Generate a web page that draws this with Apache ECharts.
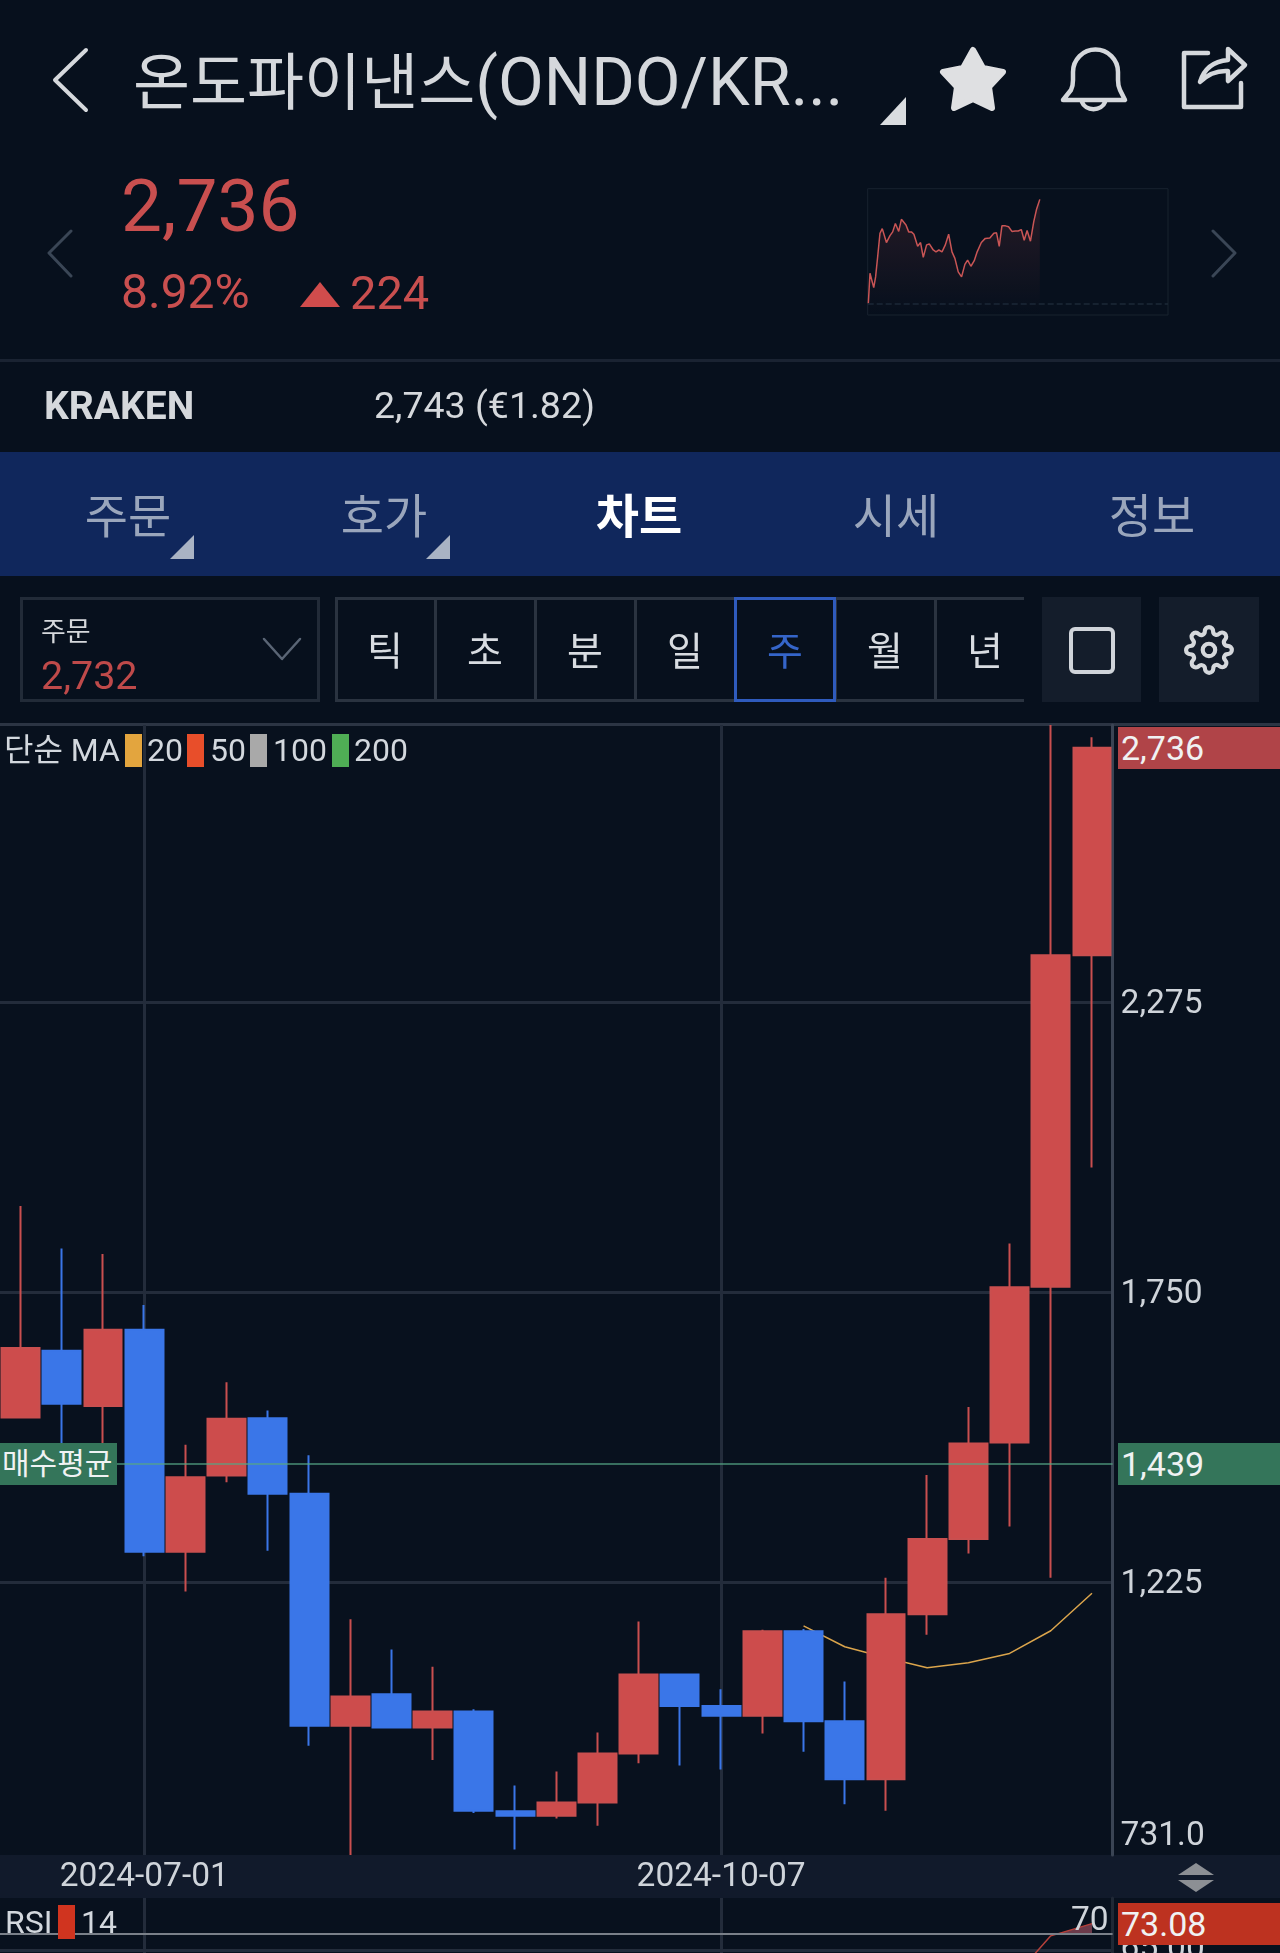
<!DOCTYPE html>
<html lang="ko">
<head>
<meta charset="utf-8">
<title>온도파이낸스 차트</title>
<script src="https://cdn.jsdelivr.net/npm/echarts@6/dist/echarts.min.js"></script>
<style>
    html, body { margin: 0; padding: 0; background: #07101d; }
    body { position: relative; width: 1280px; height: 1953px; overflow: hidden; font-family: Roboto, 'Noto Sans CJK KR', sans-serif; color: #d5d8dc; }
    #chart { position: absolute; left: 0; top: 0; width: 1280px; height: 1953px; z-index: 1; }
    #icons { position: absolute; left: 0; top: 0; z-index: 2; pointer-events: none; }
    .box { position: absolute; box-sizing: border-box; }
    .tl, .tc { position: absolute; white-space: nowrap; line-height: 1; z-index: 2; }
    .tl { transform: translateY(-50%); }
    .tc { transform: translate(-50%, -50%); }
    .red { color: #c94f4f; }
    .tab { font-size: 47px; color: #9aa6bc; }
    .cell { font-size: 39px; color: #d8dce1; }
    .leg { font-size: 32px; color: #d3d8de; }
    .swatch { position: absolute; top: 734px; width: 17px; height: 33px; z-index: 2; }
    .tag { position: absolute; left: 1118px; width: 162px; height: 42px; line-height: 42px; font-size: 34px; color: #f0f2f3; padding-left: 3px; box-sizing: border-box; transform: translateY(-50%); z-index: 3; }
</style>
</head>
<body>
<!-- 배경 띠 -->
<div class="box" style="left:0;top:359px;width:1280px;height:3px;background:#1a2332"></div>
<div class="box" style="left:0;top:452px;width:1280px;height:124px;background:#10275c"></div>
<div class="box" style="left:0;top:723px;width:1280px;height:3px;background:#2c3544"></div>
<div class="box" style="left:0;top:726px;width:1280px;height:1227px;background:#08111e"></div>
<div class="box" style="left:0;top:1855px;width:1280px;height:43px;background:#111a2b"></div>

<div class="box" style="left:20px;top:597px;width:300px;height:105px;border:3px solid #222b38"></div>
<div class="box" style="left:335px;top:597px;width:689px;height:105px;border:solid #2a3340;border-width:3px 0 3px 3px"></div>
<div class="box" style="left:1042px;top:597px;width:99px;height:105px;background:#141d2b"></div>
<div class="box" style="left:1159px;top:597px;width:100px;height:105px;background:#141d2b"></div>
<div class="box" style="left:1069px;top:627px;width:46px;height:47px;border:4px solid #d0d4da;border-radius:6px;z-index:2"></div>
<div id="cells"></div>

<div class="tl" style="left:133px;top:82px;font-size:62px">온도파이낸스<span style="font-size:66.5px">(ONDO/KR...</span></div>
<div class="tl red" style="left:121px;top:206px;font-size:73px">2,736</div>
<div class="tl red" style="left:121px;top:292px;font-size:48px">8.92%</div>
<div class="tl red" style="left:350px;top:292px;font-size:47px">224</div>
<div class="tl" style="left:44px;top:406px;font-size:39px;font-weight:700">KRAKEN</div>
<div class="tl" style="left:374px;top:406px;font-size:37.5px">2,743 (€1.82)</div>

<div class="tc tab" style="left:128px;top:516px">주문</div>
<div class="tc tab" style="left:384px;top:516px">호가</div>
<div class="tc tab" style="left:639px;top:516px;color:#fff;font-weight:700">차트</div>
<div class="tc tab" style="left:896px;top:516px">시세</div>
<div class="tc tab" style="left:1152px;top:516px">정보</div>

<div class="tl" style="left:41px;top:632px;font-size:27px">주문</div>
<div class="tl" style="left:41px;top:676px;font-size:39.5px;color:#bf4a4a">2,732</div>

<div class="tl leg" style="left:4px;top:750px">단순 MA</div>
<div class="swatch" style="left:125px;background:#e3a53e"></div>
<div class="tl leg" style="left:147px;top:750px">20</div>
<div class="swatch" style="left:187px;background:#e84e2a"></div>
<div class="tl leg" style="left:210px;top:750px">50</div>
<div class="swatch" style="left:250px;background:#a9a9a9"></div>
<div class="tl leg" style="left:273px;top:750px">100</div>
<div class="swatch" style="left:332px;background:#4fae55"></div>
<div class="tl leg" style="left:354px;top:750px">200</div>

<div class="tl leg" style="left:5px;top:1922px">RSI</div>
<div class="swatch" style="left:58px;top:1905px;height:34px;background:#d0341f"></div>
<div class="tl leg" style="left:81px;top:1922px">14</div>

<div class="tag" id="buyLabel" style="left:0;width:117px;font-size:30px;padding-left:2px;background:#34755a">매수평균</div>
<div class="tag" id="lastTag" style="background:#b04448">2,736</div>
<div class="tag" id="buyTag" style="background:#34755a">1,439</div>
<div class="tag" id="rsiTag" style="background:#bd3220">73.08</div>

<svg id="icons" width="1280" height="1953" fill="none" stroke="#d5d8dc" stroke-linejoin="round" stroke-linecap="round">
    <polyline points="86,50 55,80 86,110" stroke-width="4"/>
    <polygon points="880,125 906,97 906,125" fill="#d9dcdf" stroke="none"/>
    <polygon points="973,50 983,68 1003,72 989,87 992,108 973,99 954,108 957,87 943,72 963,68" fill="#dfe0e2" stroke="#dfe0e2" stroke-width="6"/>
    <path d="M1063 100 L1071 90 Q1073 86 1073 80 V72 A22.5 22.5 0 0 1 1118 72 V80 Q1118 86 1120 90 L1125 100 Z" stroke-width="4.5"/>
    <path d="M1082 102 A12 10 0 0 0 1105 102" stroke-width="4.5"/>
    <path d="M1208 53 H1184 V107 H1241 V83" stroke-width="4.5"/>
    <path d="M1200 82 Q1206 62 1228 60 V49 L1245 65 L1228 81 V71 Q1212 70 1200 82 Z" stroke-width="4.5"/>
    <polyline points="71,231 49,253 71,276" stroke="#3a4656" stroke-width="3"/>
    <polyline points="1213,231 1235,253 1213,276" stroke="#3a4656" stroke-width="3"/>
    <polygon points="300,307 320,282 340,307" fill="#d04c4c" stroke="none"/>
    <polygon points="170,559 194,535 194,559" fill="#a9b3c4" stroke="none"/>
    <polygon points="426,559 450,535 450,559" fill="#a9b3c4" stroke="none"/>
    <polyline points="264,639 282,659 300,639" stroke="#5a6575" stroke-width="2.5"/>
    <g transform="translate(1184,625) scale(2.08)" stroke-width="2">
        <circle cx="12" cy="12" r="3"/>
        <path d="M19.4 15a1.65 1.65 0 0 0 .33 1.82l.06.06a2 2 0 0 1 0 2.83 2 2 0 0 1-2.83 0l-.06-.06a1.65 1.65 0 0 0-1.82-.33 1.65 1.65 0 0 0-1 1.51V21a2 2 0 0 1-2 2 2 2 0 0 1-2-2v-.09A1.65 1.65 0 0 0 9 19.4a1.65 1.65 0 0 0-1.82.33l-.06.06a2 2 0 0 1-2.83 0 2 2 0 0 1 0-2.83l.06-.06a1.65 1.65 0 0 0 .33-1.82 1.65 1.65 0 0 0-1.51-1H3a2 2 0 0 1-2-2 2 2 0 0 1 2-2h.09A1.65 1.65 0 0 0 4.6 9a1.65 1.65 0 0 0-.33-1.82l-.06-.06a2 2 0 0 1 0-2.83 2 2 0 0 1 2.83 0l.06.06a1.65 1.65 0 0 0 1.82.33H9a1.65 1.65 0 0 0 1-1.51V3a2 2 0 0 1 2-2 2 2 0 0 1 2 2v.09a1.65 1.65 0 0 0 1 1.51 1.65 1.65 0 0 0 1.82-.33l.06-.06a2 2 0 0 1 2.83 0 2 2 0 0 1 0 2.83l-.06.06a1.65 1.65 0 0 0-.33 1.82V9a1.65 1.65 0 0 0 1.51 1H21a2 2 0 0 1 2 2 2 2 0 0 1-2 2h-.09a1.65 1.65 0 0 0-1.51 1z"/>
    </g>
    <polygon points="1178,1875 1196,1863 1214,1875" fill="#8c8f94" stroke="none"/>
    <polygon points="1178,1880 1196,1892 1214,1880" fill="#8c8f94" stroke="none"/>
</svg>

<div id="chart"></div>

<script>
// 주봉 날짜
var dates = ['2024-06-10', '2024-06-17', '2024-06-24', '2024-07-01', '2024-07-08', '2024-07-15', '2024-07-22',
    '2024-07-29', '2024-08-05', '2024-08-12', '2024-08-19', '2024-08-26', '2024-09-02', '2024-09-09', '2024-09-16',
    '2024-09-23', '2024-09-30', '2024-10-07', '2024-10-14', '2024-10-21', '2024-10-28', '2024-11-04', '2024-11-11',
    '2024-11-18', '2024-11-25', '2024-12-02', '2024-12-09'];
var openValues = [1523, 1644, 1544, 1682, 1280, 1418, 1522, 1385, 965, 1022, 962, 991, 810, 802, 826, 915, 1058, 1001, 983, 1136, 973, 868, 1167, 1303, 1478, 1760, 2360];
var closeValues = [1649, 1548, 1682, 1280, 1415, 1521, 1385, 965, 1018, 962, 991, 811, 802, 826, 915, 1058, 1001, 983, 1136, 973, 868, 1167, 1303, 1476, 1759, 2360, 2736];
var lowValues = [1523, 1470, 1470, 1272, 1208, 1406, 1282, 929, 731, 962, 903, 807, 741, 797, 784, 897, 893, 886, 951, 918, 823, 811, 1130, 1277, 1326, 1233, 1976];
var highValues = [1906, 1829, 1819, 1727, 1474, 1587, 1536, 1455, 1158, 1103, 1072, 995, 857, 882, 953, 1154, 1058, 1031, 1139, 1140, 1045, 1233, 1419, 1542, 1838, 2777, 2755];
var ma20Values = [null, null, null, null, null, null, null, null, null, null, null, null, null, null, null, null, null, null, null, 1146, 1108, 1088, 1070, 1079, 1096, 1137, 1205];
var rsiValues = [null, null, null, null, null, null, null, null, null, null, null, null, null, null, null, null, null, null, null, null, null, null, null, 52, 55, 69.3, 73.08];

// 축 눈금
var priceTicks = [731, 1225, 1750, 2275];
var rsiTicks = [65];
var dateLabels = ['2024-07-01', '2024-10-07'];
var buyAverage = 1439;
var lastPrice = 2736;
var lastRsi = 73.08;
var rsiLevel = 70;

// 당일 미니 차트
var sparkMinutes = [3, 11, 19, 29, 38, 48, 59, 70, 78, 90, 107, 120, 133, 149, 162, 171, 184, 197, 210, 222, 240, 254, 267, 283, 296, 315, 328, 342, 357, 373, 389, 405, 419, 435, 451, 467, 480, 496, 512, 526, 546, 565, 587, 606, 619, 632, 645, 662, 677, 693, 709, 723, 738, 752, 766, 782, 798, 811, 827];
var sparkPrices = [2512, 2577, 2575, 2546, 2569, 2613, 2663, 2673, 2671, 2643, 2658, 2666, 2684, 2667, 2693, 2693, 2681, 2666, 2666, 2661, 2635, 2643, 2611, 2638, 2640, 2627, 2623, 2627, 2623, 2638, 2661, 2623, 2609, 2580, 2569, 2596, 2605, 2592, 2604, 2623, 2643, 2652, 2653, 2663, 2664, 2635, 2679, 2679, 2677, 2667, 2668, 2668, 2671, 2648, 2669, 2646, 2688, 2714, 2736];
var sparkBase = 2512;

var periods = ['틱', '초', '분', '일', '주', '월', '년'];

// 기간 버튼
var cellsHtml = '';
periods.forEach(function (name, i) {
    var left = 334 + i * 100;
    if (i > 0) {
        cellsHtml += '<div class="box" style="left:' + left + 'px;top:597px;width:3px;height:105px;background:#2a3340"></div>';
    }
    cellsHtml += '<div class="tc cell" style="left:' + (left + 51) + 'px;top:652px' + (name === '주' ? ';color:#3565c9' : '') + '">' + name + '</div>';
});
cellsHtml += '<div class="box" style="left:734px;top:597px;width:102px;height:105px;border:3px solid #2f5bbd;z-index:2"></div>';
document.getElementById('cells').innerHTML = cellsHtml;

var candleData = dates.map(function (d, i) {
    return [openValues[i], closeValues[i], lowValues[i], highValues[i]];
});
var gridLine = '#232c3b';
var axisFont = { fontFamily: 'Roboto', fontSize: 33.5, color: '#cfd4da' };
var dateLines = dateLabels.map(function (d) { return { xAxis: d }; });

var chart = echarts.init(document.getElementById('chart'), null, { renderer: 'canvas' });
chart.setOption({
    animation: false,
    backgroundColor: 'transparent',
    // outerBoundsMode를 끄지 않으면 맨 아래 라벨 때문에 grid 높이가 줄어듦
    grid: [
        { left: 0, top: 725, width: 1112.6, height: 1130, outerBoundsMode: 'none' },
        { left: 0, top: 1898, width: 1112.6, height: 55, outerBoundsMode: 'none' },
        { left: 867.7, top: 188.7, width: 300.3, height: 126.3, outerBoundsMode: 'none', show: true, borderColor: '#18222f', borderWidth: 1, backgroundColor: 'transparent' }
    ],
    xAxis: [
        {
            type: 'category', gridIndex: 0, data: dates,
            axisLine: { show: false }, axisTick: { show: false }, splitLine: { show: false },
            axisLabel: Object.assign({}, axisFont, {
                margin: 6, rotate: 0, hideOverlap: false,
                interval: function (i, v) { return dateLabels.indexOf(v) >= 0; }
            })
        },
        {
            type: 'category', gridIndex: 1, data: dates,
            axisLine: { show: false }, axisTick: { show: false }, axisLabel: { show: false }, splitLine: { show: false }
        },
        { type: 'value', gridIndex: 2, min: 0, max: 1443, show: false }
    ],
    yAxis: [
        {
            type: 'value', gridIndex: 0, position: 'right', min: 731, max: 2777,
            axisLine: { show: true, onZero: false, lineStyle: { color: '#3a4454', width: 3 } },
            axisTick: { show: false, customValues: priceTicks },
            splitLine: { show: true, showMinLine: false, lineStyle: { color: gridLine, width: 3 } },
            axisLabel: Object.assign({}, axisFont, {
                margin: 8, customValues: priceTicks, showMinLabel: true, showMaxLabel: true,
                padding: [5, 0, 0, 0],
                formatter: function (v) {
                    // 맨 아래 눈금 글자는 선보다 위에 놓임
                    if (v === 731) { return '{low|731.0}'; }
                    return v.toLocaleString('en-US');
                },
                rich: { low: { fontFamily: 'Roboto', fontSize: 33.5, color: '#cfd4da', padding: [0, 0, 42, 0] } }
            })
        },
        {
            type: 'value', gridIndex: 1, position: 'right', min: 64, max: 81,
            axisLine: { show: true, onZero: false, lineStyle: { color: '#1f2835', width: 3 } },
            axisTick: { show: false, customValues: rsiTicks },
            splitLine: { show: true, lineStyle: { color: gridLine, width: 3 } },
            axisLabel: Object.assign({}, axisFont, {
                margin: 8, customValues: rsiTicks,
                formatter: function (v) { return v.toFixed(2); }
            })
        },
        { type: 'value', gridIndex: 2, min: 2487, max: 2759, show: false }
    ],
    series: [
        {
            name: 'MA20', type: 'line', xAxisIndex: 0, yAxisIndex: 0, z: 1,
            data: ma20Values, showSymbol: false, silent: true,
            lineStyle: { color: '#dba54c', width: 1.5 },
            markLine: {
                z: 1, silent: true, symbol: 'none', animation: false,
                label: { show: false },
                lineStyle: { color: gridLine, width: 3, type: 'solid' },
                data: dateLines
            }
        },
        {
            name: 'ONDO', type: 'candlestick', xAxisIndex: 0, yAxisIndex: 0, z: 2,
            data: candleData, barWidth: 38.4,
            itemStyle: { color: '#cd4c4c', color0: '#3a76e8', borderColor: '#c94f4f', borderColor0: '#3a76e8', borderWidth: 2 },
            markLine: {
                z: 6, silent: true, symbol: 'none', animation: false,
                label: { show: false },
                lineStyle: { color: '#55a585', width: 1.5, type: 'solid', opacity: 0.85 },
                data: [{ yAxis: buyAverage }]
            }
        },
        {
            name: 'RSI', type: 'line', xAxisIndex: 1, yAxisIndex: 1, z: 3,
            data: rsiValues, showSymbol: false, silent: true,
            lineStyle: { color: '#b5403a', width: 1.5 },
            // 70 위로 올라간 부분만 칠함
            areaStyle: {
                origin: rsiLevel, opacity: 1,
                color: {
                    type: 'linear', global: true, x: 0, y: 1898, x2: 0, y2: 1953,
                    colorStops: [
                        { offset: 0, color: '#6b3a4a' }, { offset: 0.645, color: '#6b3a4a' },
                        { offset: 0.645, color: 'rgba(0,0,0,0)' }, { offset: 1, color: 'rgba(0,0,0,0)' }
                    ]
                }
            },
            markLine: {
                z: 1, silent: true, symbol: 'none', animation: false,
                label: { show: false },
                lineStyle: { color: gridLine, width: 3, type: 'solid' },
                data: dateLines
            }
        },
        {
            name: 'RSI 기준', type: 'line', xAxisIndex: 1, yAxisIndex: 1, z: 4,
            data: [], silent: true,
            markLine: {
                z: 4, silent: true, symbol: 'none', animation: false,
                lineStyle: { color: '#7a8089', width: 2, type: 'solid' },
                label: { show: true, position: 'insideEndTop', distance: [4, -5], formatter: String(rsiLevel), fontFamily: 'Roboto', fontSize: 33.5, color: '#cfd4da' },
                data: [{ yAxis: rsiLevel }]
            }
        },
        {
            name: '당일', type: 'line', xAxisIndex: 2, yAxisIndex: 2,
            data: sparkMinutes.map(function (m, i) { return [m, sparkPrices[i]]; }),
            showSymbol: false, silent: true,
            lineStyle: { color: '#c95555', width: 1.5 },
            areaStyle: {
                origin: 'start',
                color: {
                    type: 'linear', x: 0, y: 0, x2: 0, y2: 1,
                    colorStops: [{ offset: 0, color: 'rgba(190,80,85,0.24)' }, { offset: 1, color: 'rgba(190,80,85,0)' }]
                }
            },
            markLine: {
                silent: true, symbol: 'none', animation: false,
                label: { show: false },
                lineStyle: { color: '#1d2937', width: 1.5, type: 'dashed' },
                data: [{ yAxis: sparkBase }]
            }
        }
    ]
});

// 가격 태그는 축 좌표에 맞춰 배치
function placeTag(id, yAxisIndex, value) {
    document.getElementById(id).style.top = chart.convertToPixel({ yAxisIndex: yAxisIndex }, value) + 'px';
}
placeTag('lastTag', 0, lastPrice);
placeTag('buyTag', 0, buyAverage);
placeTag('buyLabel', 0, buyAverage);
placeTag('rsiTag', 1, lastRsi);
</script>
</body>
</html>
